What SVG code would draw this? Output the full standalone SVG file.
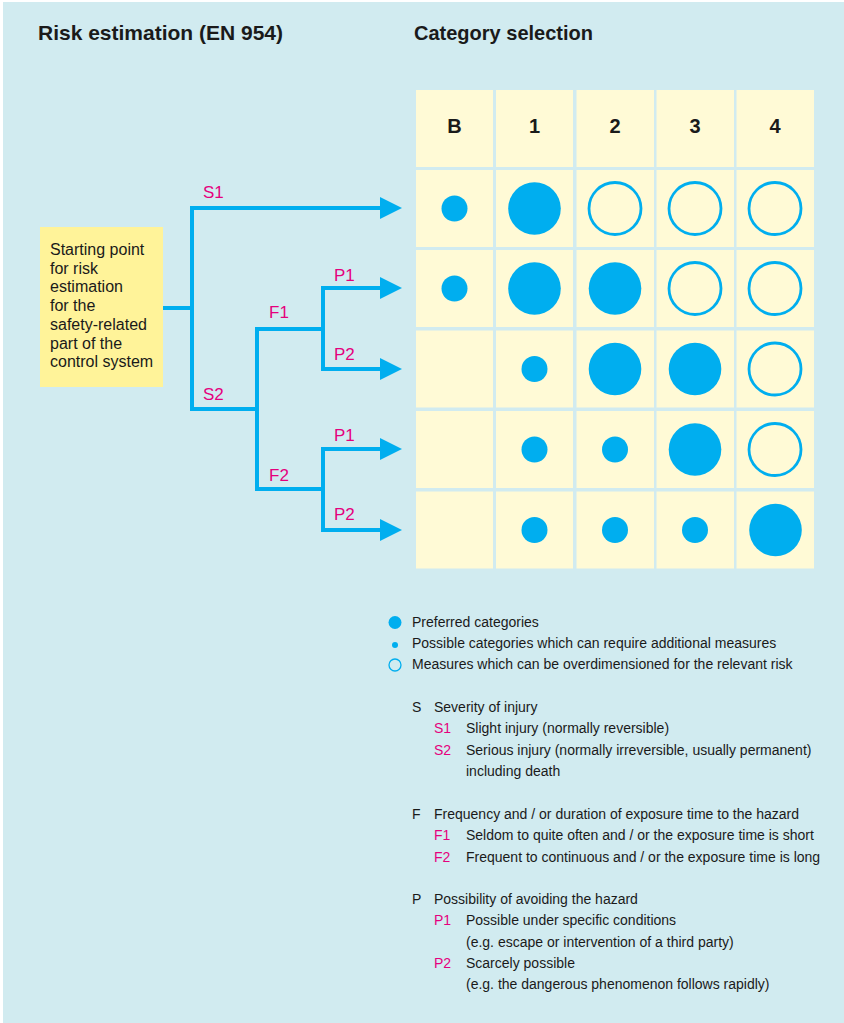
<svg xmlns="http://www.w3.org/2000/svg" width="844" height="1023" viewBox="0 0 844 1023">
<style>
  text { font-family: "Liberation Sans", Arial, sans-serif; fill: #1a1a1a; }
  .title { font-size: 20.5px; font-weight: bold; }
  .hdr { font-size: 20px; font-weight: bold; text-anchor: middle; }
  .box { font-size: 16px; }
  .lbl { font-size: 17px; fill: #e5007d; }
  .leg { font-size: 14px; }
  .mg { fill: #e5007d; }
  .cell { fill: #fffad6; }
  .big { fill: #00aeef; }
  .open { fill: none; stroke: #00aeef; stroke-width: 2.8; }
  .con { fill: none; stroke: #00aeef; stroke-width: 4; stroke-linecap: square; stroke-linejoin: miter; }
</style>
<defs>
  <marker id="arr" viewBox="0 0 22 22" refX="0" refY="11" markerWidth="22" markerHeight="22" markerUnits="userSpaceOnUse" orient="auto">
    <path d="M0 0 L22 11 L0 22 Z" fill="#00aeef"/>
  </marker>
</defs>
<rect x="0" y="0" width="844" height="1023" fill="#ffffff"/>
<rect x="3" y="2" width="841" height="1021" fill="#d1ebf0"/>

<text class="title" x="38" y="40" textLength="245" lengthAdjust="spacingAndGlyphs">Risk estimation (EN 954)</text>
<text class="title" x="414" y="40" textLength="179" lengthAdjust="spacingAndGlyphs">Category selection</text>

<g id="start">
  <rect x="40" y="227" width="123" height="160" fill="#fff399"/>
  <text class="box" x="50" y="255">Starting point</text>
  <text class="box" x="50" y="274">for risk</text>
  <text class="box" x="50" y="292">estimation</text>
  <text class="box" x="50" y="311">for the</text>
  <text class="box" x="50" y="330">safety-related</text>
  <text class="box" x="50" y="349">part of the</text>
  <text class="box" x="50" y="367">control system</text>
</g>

<g id="header">
  <rect class="cell" x="416" y="90" width="77" height="77"/>
  <rect class="cell" x="496" y="90" width="77" height="77"/>
  <rect class="cell" x="576.5" y="90" width="77.5" height="77"/>
  <rect class="cell" x="656.5" y="90" width="77.5" height="77"/>
  <rect class="cell" x="736.5" y="90" width="77.5" height="77"/>
  <text class="hdr" x="454.5" y="133">B</text>
  <text class="hdr" x="534.5" y="133">1</text>
  <text class="hdr" x="615" y="133">2</text>
  <text class="hdr" x="695" y="133">3</text>
  <text class="hdr" x="775" y="133">4</text>
</g>

<g id="row1">
  <rect class="cell" x="416" y="170" width="77" height="77"/>
  <rect class="cell" x="496" y="170" width="77" height="77"/>
  <rect class="cell" x="576.5" y="170" width="77.5" height="77"/>
  <rect class="cell" x="656.5" y="170" width="77.5" height="77"/>
  <rect class="cell" x="736.5" y="170" width="77.5" height="77"/>
  <circle class="big" cx="454.5" cy="208.5" r="13"/>
  <circle class="big" cx="534.5" cy="208.5" r="26.3"/>
  <circle class="open" cx="615" cy="208.5" r="26"/>
  <circle class="open" cx="695" cy="208.5" r="26"/>
  <circle class="open" cx="775" cy="208.5" r="26"/>
</g>

<g id="row2">
  <rect class="cell" x="416" y="250" width="77" height="77"/>
  <rect class="cell" x="496" y="250" width="77" height="77"/>
  <rect class="cell" x="576.5" y="250" width="77.5" height="77"/>
  <rect class="cell" x="656.5" y="250" width="77.5" height="77"/>
  <rect class="cell" x="736.5" y="250" width="77.5" height="77"/>
  <circle class="big" cx="454.5" cy="288.5" r="13"/>
  <circle class="big" cx="534.5" cy="288.5" r="26.3"/>
  <circle class="big" cx="615" cy="288.5" r="26.3"/>
  <circle class="open" cx="695" cy="288.5" r="26"/>
  <circle class="open" cx="775" cy="288.5" r="26"/>
</g>

<g id="row3">
  <rect class="cell" x="416" y="330.5" width="77" height="77"/>
  <rect class="cell" x="496" y="330.5" width="77" height="77"/>
  <rect class="cell" x="576.5" y="330.5" width="77.5" height="77"/>
  <rect class="cell" x="656.5" y="330.5" width="77.5" height="77"/>
  <rect class="cell" x="736.5" y="330.5" width="77.5" height="77"/>
  <circle class="big" cx="534.5" cy="369" r="13"/>
  <circle class="big" cx="615" cy="369" r="26.3"/>
  <circle class="big" cx="695" cy="369" r="26.3"/>
  <circle class="open" cx="775" cy="369" r="26"/>
</g>

<g id="row4">
  <rect class="cell" x="416" y="411" width="77" height="77"/>
  <rect class="cell" x="496" y="411" width="77" height="77"/>
  <rect class="cell" x="576.5" y="411" width="77.5" height="77"/>
  <rect class="cell" x="656.5" y="411" width="77.5" height="77"/>
  <rect class="cell" x="736.5" y="411" width="77.5" height="77"/>
  <circle class="big" cx="534.5" cy="449.5" r="13"/>
  <circle class="big" cx="615" cy="449.5" r="13"/>
  <circle class="big" cx="695" cy="449.5" r="26.3"/>
  <circle class="open" cx="775" cy="449.5" r="26"/>
</g>

<g id="row5">
  <rect class="cell" x="416" y="491.5" width="77" height="77"/>
  <rect class="cell" x="496" y="491.5" width="77" height="77"/>
  <rect class="cell" x="576.5" y="491.5" width="77.5" height="77"/>
  <rect class="cell" x="656.5" y="491.5" width="77.5" height="77"/>
  <rect class="cell" x="736.5" y="491.5" width="77.5" height="77"/>
  <circle class="big" cx="534.5" cy="530" r="13"/>
  <circle class="big" cx="615" cy="530" r="13"/>
  <circle class="big" cx="695" cy="530" r="13"/>
  <circle class="big" cx="775.5" cy="530" r="26.3"/>
</g>

<g id="connectors">
  <path class="con" d="M165 308 H192"/>
  <path class="con" d="M192 409 V208 H380" marker-end="url(#arr)"/>
  <path class="con" d="M192 409 H257"/>
  <path class="con" d="M323 329 H257 V489 H323"/>
  <path class="con" d="M323 369 V288 H380" marker-end="url(#arr)"/>
  <path class="con" d="M323 369 H380" marker-end="url(#arr)"/>
  <path class="con" d="M323 530 V449 H380" marker-end="url(#arr)"/>
  <path class="con" d="M323 530 H380" marker-end="url(#arr)"/>
  <text class="lbl" x="203" y="198">S1</text>
  <text class="lbl" x="203" y="400">S2</text>
  <text class="lbl" x="269" y="318">F1</text>
  <text class="lbl" x="269" y="481">F2</text>
  <text class="lbl" x="334" y="281">P1</text>
  <text class="lbl" x="334" y="360">P2</text>
  <text class="lbl" x="334" y="441">P1</text>
  <text class="lbl" x="334" y="520">P2</text>
</g>

<g id="legend">
  <circle class="big" cx="395" cy="622.5" r="6.5"/>
  <circle class="big" cx="395" cy="645" r="3"/>
  <circle cx="395" cy="665" r="6" fill="none" stroke="#00aeef" stroke-width="1.3"/>
  <text class="leg" x="412" y="627">Preferred categories</text>
  <text class="leg" x="412" y="648">Possible categories which can require additional measures</text>
  <text class="leg" x="412" y="669">Measures which can be overdimensioned for the relevant risk</text>

  <text class="leg" x="412" y="712">S</text>
  <text class="leg" x="434" y="712">Severity of injury</text>
  <text class="leg mg" x="434" y="733">S1</text>
  <text class="leg" x="466" y="733">Slight injury (normally reversible)</text>
  <text class="leg mg" x="434" y="755">S2</text>
  <text class="leg" x="466" y="755">Serious injury (normally irreversible, usually permanent)</text>
  <text class="leg" x="466" y="776">including death</text>

  <text class="leg" x="412" y="819">F</text>
  <text class="leg" x="434" y="819">Frequency and / or duration of exposure time to the hazard</text>
  <text class="leg mg" x="434" y="840">F1</text>
  <text class="leg" x="466" y="840">Seldom to quite often and / or the exposure time is short</text>
  <text class="leg mg" x="434" y="862">F2</text>
  <text class="leg" x="466" y="862">Frequent to continuous and / or the exposure time is long</text>

  <text class="leg" x="412" y="904">P</text>
  <text class="leg" x="434" y="904">Possibility of avoiding the hazard</text>
  <text class="leg mg" x="434" y="925">P1</text>
  <text class="leg" x="466" y="925">Possible under specific conditions</text>
  <text class="leg" x="466" y="947">(e.g. escape or intervention of a third party)</text>
  <text class="leg mg" x="434" y="968">P2</text>
  <text class="leg" x="466" y="968">Scarcely possible</text>
  <text class="leg" x="466" y="989">(e.g. the dangerous phenomenon follows rapidly)</text>
</g>
</svg>
